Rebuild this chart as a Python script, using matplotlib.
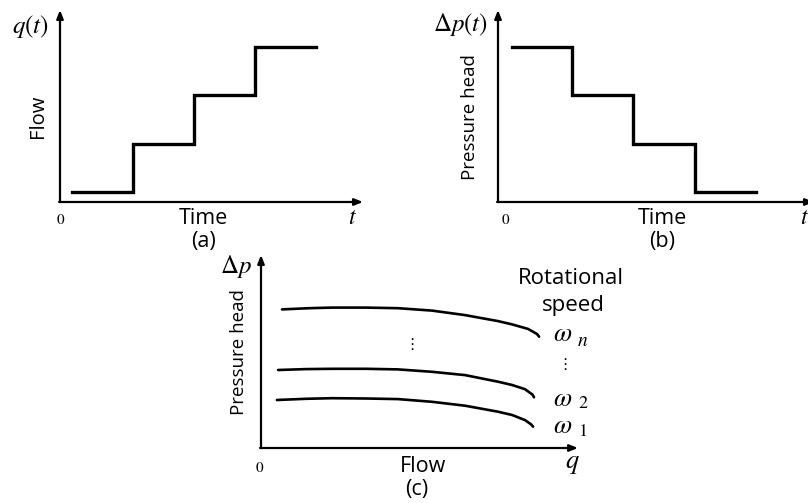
import matplotlib
matplotlib.use("Agg")
import matplotlib.pyplot as plt

plt.rcParams['mathtext.fontset'] = 'stix'

W, H = 808, 503

# ---- data ----
# panel (a): flow steps over time
time_a = [0.2, 1.2, 2.2, 3.2, 4.2]
flow_a = [0.2, 1.2, 2.2, 3.2, 3.2]
# panel (b): pressure head steps over time
time_b = [0.23, 1.21, 2.21, 3.23, 4.23]
head_b = [3.2, 2.2, 1.2, 0.2, 0.2]
# panel (c): pump curves (flow q, pressure head dp)
q_n = [0.70, 1.60, 2.37, 3.50, 4.57, 5.70, 6.80, 7.90, 8.37, 8.90, 9.20, 9.27]
p_n = [4.62, 4.66, 4.68, 4.68, 4.66, 4.58, 4.43, 4.23, 4.12, 3.97, 3.80, 3.71]
q_2 = [0.57, 1.50, 2.37, 3.50, 4.57, 5.70, 6.80, 7.90, 8.37, 8.80, 9.05, 9.10]
p_2 = [2.60, 2.63, 2.64, 2.64, 2.62, 2.54, 2.43, 2.21, 2.10, 1.96, 1.78, 1.69]
q_1 = [0.53, 1.50, 2.37, 3.50, 4.57, 5.70, 6.80, 7.90, 8.37, 8.80, 9.00, 9.07]
p_1 = [1.60, 1.64, 1.66, 1.65, 1.63, 1.54, 1.41, 1.21, 1.10, 0.93, 0.79, 0.71]

fig = plt.figure(figsize=(W / 100, H / 100), dpi=100)

def add_ax(x0, x1, ytop, ybot):
    return fig.add_axes([x0 / W, 1 - ybot / H, (x1 - x0) / W, (ybot - ytop) / H])

def ptext(x, y, s, **kw):
    kw.setdefault('ha', 'center')
    kw.setdefault('va', 'center')
    fig.text(x / W, 1 - y / H, s, **kw)

def arrows(ax):
    ax.set_axis_off()
    ap = dict(arrowstyle='-|>,head_length=0.5,head_width=0.2', lw=1.6, color='black',
              shrinkA=0, shrinkB=0)
    ax.annotate('', xy=(0, 1), xytext=(0, 0), xycoords='axes fraction',
                arrowprops=ap, annotation_clip=False)
    ax.annotate('', xy=(1, 0), xytext=(-0.003, 0), xycoords='axes fraction',
                arrowprops=ap, annotation_clip=False)

ylab = dict(family='Open Sans', fontsize=13.5)
xlab = dict(family='Open Sans', fontsize=15.5)

# panel (a)
axa = add_ax(60, 363, 10, 202)
axa.set_xlim(0, (363 - 60) / 61)
axa.set_ylim(0, (202 - 10) / 48.5)
axa.plot(time_a, flow_a, drawstyle='steps-post', color='black', lw=2.4,
         solid_joinstyle='miter')
arrows(axa)

# panel (b)
axb = add_ax(498, 814, 10, 202)
axb.set_xlim(0, (814 - 498) / 61)
axb.set_ylim(0, (202 - 10) / 48.5)
axb.plot(time_b, head_b, drawstyle='steps-post', color='black', lw=2.4,
         solid_joinstyle='miter')
arrows(axb)

# panel (c)
axc = add_ax(261, 578, 255, 448)
axc.set_xlim(0, (578 - 261) / 30)
axc.set_ylim(0, (448 - 255) / 30)
for q, p in [(q_n, p_n), (q_2, p_2), (q_1, p_1)]:
    axc.plot(q, p, color='black', lw=1.9, solid_capstyle='round',
             solid_joinstyle='round')
arrows(axc)

# texts panel (a)
ptext(30, 27, r'$q(t)$', fontsize=18)
ptext(38, 116, 'Flow', rotation=90, fontsize=14.5, family='Open Sans')
ptext(61, 220, r'$0$', fontsize=11)
ptext(203, 219, 'Time', **xlab)
ptext(203, 241, '(a)', **xlab)
ptext(352, 217, r'$t$', fontsize=17)

# texts panel (b)
ptext(461, 25, r'$\Delta p(t)$', fontsize=18)
ptext(470, 117, 'Pressure head', rotation=90, **ylab)
ptext(506, 220, r'$0$', fontsize=11)
ptext(662, 219, 'Time', **xlab)
ptext(662, 241, '(b)', **xlab)
ptext(805, 217, r'$t$', fontsize=17)

# texts panel (c)
ptext(236, 266, r'$\Delta p$', fontsize=18)
ptext(239, 352, 'Pressure head', rotation=90, **ylab)
ptext(571, 279, 'Rotational', family='Open Sans', fontsize=16)
ptext(573, 306, 'speed', family='Open Sans', fontsize=16)
ptext(563, 334, r'$\omega$', fontsize=19)
ptext(583, 341, r'$n$', fontsize=14)
ptext(565, 364, '⋮', fontsize=11, family='DejaVu Sans')
ptext(412, 344, '⋮', fontsize=11, family='DejaVu Sans')
ptext(563, 399, r'$\omega$', fontsize=19)
ptext(583, 403, r'$2$', fontsize=13)
ptext(563, 426, r'$\omega$', fontsize=19)
ptext(583, 431, r'$1$', fontsize=13)
ptext(260, 467, r'$0$', fontsize=11)
ptext(423, 466, 'Flow', **xlab)
ptext(572, 463, r'$q$', fontsize=19)
ptext(417, 490, '(c)', **xlab)

fig.savefig('out.png', dpi=100)
